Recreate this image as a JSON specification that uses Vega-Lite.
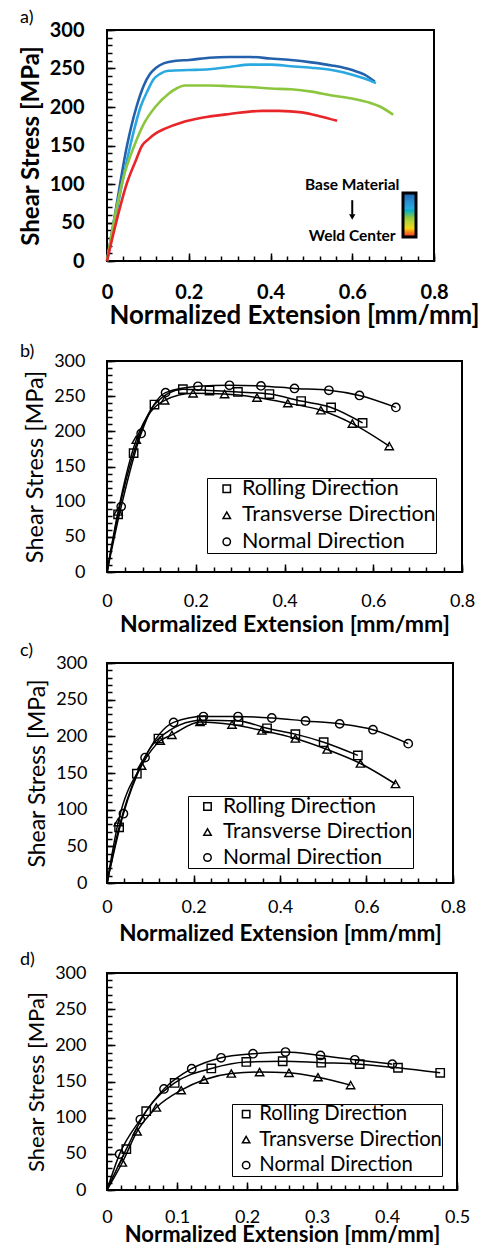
{
  "$schema": "https://vega.github.io/schema/vega-lite/v6.json",
  "padding": {"left": 18, "top": 8, "right": 1, "bottom": 1},
  "spacing": 0,
  "resolve": {"scale": {"shape": "independent", "color": "independent"}, "legend": {"shape": "independent", "color": "independent"}},
  "config": {
    "font": "Lato",
    "view": {"stroke": "black", "strokeWidth": 2},
    "axis": {"grid": false, "domain": false, "tickColor": "black", "tickWidth": 1.5, "labelColor": "black", "titleColor": "black", "labelFlush": false, "labelOverlap": false, "labelBound": false, "labelFont": "Lato", "titleFont": "Lato"},
    "title": {"anchor": "start", "frame": "group", "dx": -87, "offset": 0, "fontSize": 18, "fontWeight": "normal", "color": "black", "font": "Lato"},
    "legend": {"labelFont": "Lato", "labelColor": "black", "labelLimit": 400}
  },
  "datasets": {
    "a": [
      {"c": "c1", "p": 1, "x": 0, "y": 0}, {"c": "c1", "p": 1, "x": 0.02, "y": 62}, {"c": "c1", "p": 1, "x": 0.049, "y": 150}, {"c": "c1", "p": 1, "x": 0.072, "y": 200}, {"c": "c1", "p": 1, "x": 0.09, "y": 228}, {"c": "c1", "p": 1, "x": 0.105, "y": 243}, {"c": "c1", "p": 1, "x": 0.12, "y": 251}, {"c": "c1", "p": 1, "x": 0.14, "y": 257}, {"c": "c1", "p": 1, "x": 0.17, "y": 260}, {"c": "c1", "p": 1, "x": 0.2, "y": 261}, {"c": "c1", "p": 1, "x": 0.25, "y": 264}, {"c": "c1", "p": 1, "x": 0.3, "y": 265}, {"c": "c1", "p": 1, "x": 0.35, "y": 265}, {"c": "c1", "p": 1, "x": 0.4, "y": 263}, {"c": "c1", "p": 1, "x": 0.45, "y": 261}, {"c": "c1", "p": 1, "x": 0.5, "y": 258}, {"c": "c1", "p": 1, "x": 0.55, "y": 254}, {"c": "c1", "p": 1, "x": 0.6, "y": 248}, {"c": "c1", "p": 1, "x": 0.63, "y": 242}, {"c": "c1", "p": 1, "x": 0.655, "y": 233},
      {"c": "c2", "p": 0.65, "x": 0, "y": 0}, {"c": "c2", "p": 0.65, "x": 0.02, "y": 55}, {"c": "c2", "p": 0.65, "x": 0.057, "y": 150}, {"c": "c2", "p": 0.65, "x": 0.082, "y": 200}, {"c": "c2", "p": 0.65, "x": 0.1, "y": 222}, {"c": "c2", "p": 0.65, "x": 0.114, "y": 236}, {"c": "c2", "p": 0.65, "x": 0.13, "y": 243}, {"c": "c2", "p": 0.65, "x": 0.15, "y": 247}, {"c": "c2", "p": 0.65, "x": 0.2, "y": 248}, {"c": "c2", "p": 0.65, "x": 0.25, "y": 249}, {"c": "c2", "p": 0.65, "x": 0.3, "y": 252}, {"c": "c2", "p": 0.65, "x": 0.35, "y": 255}, {"c": "c2", "p": 0.65, "x": 0.4, "y": 255}, {"c": "c2", "p": 0.65, "x": 0.45, "y": 253}, {"c": "c2", "p": 0.65, "x": 0.5, "y": 251}, {"c": "c2", "p": 0.65, "x": 0.55, "y": 248}, {"c": "c2", "p": 0.65, "x": 0.6, "y": 242}, {"c": "c2", "p": 0.65, "x": 0.63, "y": 237}, {"c": "c2", "p": 0.65, "x": 0.658, "y": 231},
      {"c": "c3", "p": 0.45, "x": 0, "y": 0}, {"c": "c3", "p": 0.45, "x": 0.02, "y": 60}, {"c": "c3", "p": 0.45, "x": 0.04, "y": 108}, {"c": "c3", "p": 0.45, "x": 0.067, "y": 150}, {"c": "c3", "p": 0.45, "x": 0.09, "y": 178}, {"c": "c3", "p": 0.45, "x": 0.118, "y": 200}, {"c": "c3", "p": 0.45, "x": 0.15, "y": 217}, {"c": "c3", "p": 0.45, "x": 0.17, "y": 224}, {"c": "c3", "p": 0.45, "x": 0.19, "y": 228}, {"c": "c3", "p": 0.45, "x": 0.25, "y": 228}, {"c": "c3", "p": 0.45, "x": 0.3, "y": 227}, {"c": "c3", "p": 0.45, "x": 0.35, "y": 226}, {"c": "c3", "p": 0.45, "x": 0.4, "y": 224}, {"c": "c3", "p": 0.45, "x": 0.45, "y": 223}, {"c": "c3", "p": 0.45, "x": 0.5, "y": 220}, {"c": "c3", "p": 0.45, "x": 0.55, "y": 215}, {"c": "c3", "p": 0.45, "x": 0.6, "y": 211}, {"c": "c3", "p": 0.45, "x": 0.64, "y": 206}, {"c": "c3", "p": 0.45, "x": 0.67, "y": 200}, {"c": "c3", "p": 0.45, "x": 0.7, "y": 190},
      {"c": "c4", "p": 0, "x": 0, "y": 0}, {"c": "c4", "p": 0, "x": 0.02, "y": 45}, {"c": "c4", "p": 0, "x": 0.048, "y": 100}, {"c": "c4", "p": 0, "x": 0.07, "y": 130}, {"c": "c4", "p": 0, "x": 0.086, "y": 150}, {"c": "c4", "p": 0, "x": 0.101, "y": 158}, {"c": "c4", "p": 0, "x": 0.12, "y": 166}, {"c": "c4", "p": 0, "x": 0.142, "y": 172}, {"c": "c4", "p": 0, "x": 0.183, "y": 180}, {"c": "c4", "p": 0, "x": 0.232, "y": 186}, {"c": "c4", "p": 0, "x": 0.3, "y": 191}, {"c": "c4", "p": 0, "x": 0.38, "y": 195}, {"c": "c4", "p": 0, "x": 0.42, "y": 195}, {"c": "c4", "p": 0, "x": 0.477, "y": 193}, {"c": "c4", "p": 0, "x": 0.52, "y": 188}, {"c": "c4", "p": 0, "x": 0.563, "y": 182}
    ],
    "anno": [
      {"x": 0.6, "y": 99, "t": "Base Material"},
      {"x": 0.6, "y": 33, "t": "Weld Center"}
    ],
    "arrow": [{"x": 0.6, "y": 79, "y2": 60}],
    "head": [{"x": 0.6, "y": 57}],
    "b": [
      {"d": "Rolling Direction", "x": 0, "y": 0, "m": 0}, {"d": "Rolling Direction", "x": 0.025, "y": 82, "m": 1}, {"d": "Rolling Direction", "x": 0.06, "y": 169, "m": 1}, {"d": "Rolling Direction", "x": 0.107, "y": 238, "m": 1}, {"d": "Rolling Direction", "x": 0.171, "y": 260, "m": 1}, {"d": "Rolling Direction", "x": 0.231, "y": 258, "m": 1}, {"d": "Rolling Direction", "x": 0.295, "y": 256, "m": 1}, {"d": "Rolling Direction", "x": 0.366, "y": 253, "m": 1}, {"d": "Rolling Direction", "x": 0.4375, "y": 243, "m": 1}, {"d": "Rolling Direction", "x": 0.505, "y": 234, "m": 1}, {"d": "Rolling Direction", "x": 0.576, "y": 212, "m": 1},
      {"d": "Transverse Direction", "x": 0, "y": 0, "m": 0}, {"d": "Transverse Direction", "x": 0.025, "y": 86, "m": 1}, {"d": "Transverse Direction", "x": 0.066, "y": 188, "m": 1}, {"d": "Transverse Direction", "x": 0.13, "y": 244, "m": 1}, {"d": "Transverse Direction", "x": 0.194, "y": 254, "m": 1}, {"d": "Transverse Direction", "x": 0.265, "y": 253, "m": 1}, {"d": "Transverse Direction", "x": 0.338, "y": 248, "m": 1}, {"d": "Transverse Direction", "x": 0.4075, "y": 240, "m": 1}, {"d": "Transverse Direction", "x": 0.482, "y": 230, "m": 1}, {"d": "Transverse Direction", "x": 0.553, "y": 211, "m": 1}, {"d": "Transverse Direction", "x": 0.636, "y": 179, "m": 1},
      {"d": "Normal Direction", "x": 0, "y": 0, "m": 0}, {"d": "Normal Direction", "x": 0.032, "y": 93, "m": 1}, {"d": "Normal Direction", "x": 0.077, "y": 197, "m": 1}, {"d": "Normal Direction", "x": 0.132, "y": 255, "m": 1}, {"d": "Normal Direction", "x": 0.205, "y": 264, "m": 1}, {"d": "Normal Direction", "x": 0.276, "y": 265.5, "m": 1}, {"d": "Normal Direction", "x": 0.347, "y": 264.6, "m": 1}, {"d": "Normal Direction", "x": 0.4225, "y": 261, "m": 1}, {"d": "Normal Direction", "x": 0.5, "y": 258.4, "m": 1}, {"d": "Normal Direction", "x": 0.569, "y": 251, "m": 1}, {"d": "Normal Direction", "x": 0.651, "y": 234, "m": 1}
    ],
    "c": [
      {"d": "Rolling Direction", "x": 0, "y": 0, "m": 0}, {"d": "Rolling Direction", "x": 0.028, "y": 76, "m": 1}, {"d": "Rolling Direction", "x": 0.069, "y": 149, "m": 1}, {"d": "Rolling Direction", "x": 0.119, "y": 197, "m": 1}, {"d": "Rolling Direction", "x": 0.219, "y": 222, "m": 1}, {"d": "Rolling Direction", "x": 0.304, "y": 221, "m": 1}, {"d": "Rolling Direction", "x": 0.37, "y": 211, "m": 1}, {"d": "Rolling Direction", "x": 0.4355, "y": 203, "m": 1}, {"d": "Rolling Direction", "x": 0.501, "y": 192, "m": 1}, {"d": "Rolling Direction", "x": 0.58, "y": 174, "m": 1},
      {"d": "Transverse Direction", "x": 0, "y": 0, "m": 0}, {"d": "Transverse Direction", "x": 0.026, "y": 83, "m": 1}, {"d": "Transverse Direction", "x": 0.08, "y": 160, "m": 1}, {"d": "Transverse Direction", "x": 0.123, "y": 194, "m": 1}, {"d": "Transverse Direction", "x": 0.15, "y": 202, "m": 1}, {"d": "Transverse Direction", "x": 0.215, "y": 219.5, "m": 1}, {"d": "Transverse Direction", "x": 0.289, "y": 216, "m": 1}, {"d": "Transverse Direction", "x": 0.358, "y": 208, "m": 1}, {"d": "Transverse Direction", "x": 0.4355, "y": 197, "m": 1}, {"d": "Transverse Direction", "x": 0.509, "y": 182, "m": 1}, {"d": "Transverse Direction", "x": 0.586, "y": 163, "m": 1}, {"d": "Transverse Direction", "x": 0.667, "y": 135, "m": 1},
      {"d": "Normal Direction", "x": 0, "y": 0, "m": 0}, {"d": "Normal Direction", "x": 0.038, "y": 94.5, "m": 1}, {"d": "Normal Direction", "x": 0.088, "y": 171, "m": 1}, {"d": "Normal Direction", "x": 0.154, "y": 219, "m": 1}, {"d": "Normal Direction", "x": 0.223, "y": 227, "m": 1}, {"d": "Normal Direction", "x": 0.303, "y": 227, "m": 1}, {"d": "Normal Direction", "x": 0.381, "y": 225, "m": 1}, {"d": "Normal Direction", "x": 0.459, "y": 221, "m": 1}, {"d": "Normal Direction", "x": 0.538, "y": 217, "m": 1}, {"d": "Normal Direction", "x": 0.615, "y": 209, "m": 1}, {"d": "Normal Direction", "x": 0.6965, "y": 190, "m": 1}
    ],
    "d": [
      {"d": "Rolling Direction", "x": 0, "y": 0, "m": 0}, {"d": "Rolling Direction", "x": 0.0276, "y": 56.5, "m": 1}, {"d": "Rolling Direction", "x": 0.056, "y": 109, "m": 1}, {"d": "Rolling Direction", "x": 0.0967, "y": 148, "m": 1}, {"d": "Rolling Direction", "x": 0.149, "y": 168, "m": 1}, {"d": "Rolling Direction", "x": 0.199, "y": 177, "m": 1}, {"d": "Rolling Direction", "x": 0.251, "y": 178, "m": 1}, {"d": "Rolling Direction", "x": 0.306, "y": 176, "m": 1}, {"d": "Rolling Direction", "x": 0.361, "y": 174, "m": 1}, {"d": "Rolling Direction", "x": 0.4157, "y": 169, "m": 1}, {"d": "Rolling Direction", "x": 0.476, "y": 162, "m": 1},
      {"d": "Transverse Direction", "x": 0, "y": 0, "m": 0}, {"d": "Transverse Direction", "x": 0.0219, "y": 38, "m": 1}, {"d": "Transverse Direction", "x": 0.043, "y": 81, "m": 1}, {"d": "Transverse Direction", "x": 0.0705, "y": 114, "m": 1}, {"d": "Transverse Direction", "x": 0.106, "y": 138, "m": 1}, {"d": "Transverse Direction", "x": 0.1386, "y": 152.5, "m": 1}, {"d": "Transverse Direction", "x": 0.1776, "y": 161, "m": 1}, {"d": "Transverse Direction", "x": 0.218, "y": 163, "m": 1}, {"d": "Transverse Direction", "x": 0.26, "y": 162, "m": 1}, {"d": "Transverse Direction", "x": 0.3014, "y": 156, "m": 1}, {"d": "Transverse Direction", "x": 0.348, "y": 145, "m": 1},
      {"d": "Normal Direction", "x": 0, "y": 0, "m": 0}, {"d": "Normal Direction", "x": 0.018, "y": 49.6, "m": 1}, {"d": "Normal Direction", "x": 0.0476, "y": 97.4, "m": 1}, {"d": "Normal Direction", "x": 0.0814, "y": 139.7, "m": 1}, {"d": "Normal Direction", "x": 0.121, "y": 167.7, "m": 1}, {"d": "Normal Direction", "x": 0.163, "y": 182.8, "m": 1}, {"d": "Normal Direction", "x": 0.2086, "y": 188.4, "m": 1}, {"d": "Normal Direction", "x": 0.255, "y": 190.7, "m": 1}, {"d": "Normal Direction", "x": 0.305, "y": 186, "m": 1}, {"d": "Normal Direction", "x": 0.354, "y": 180, "m": 1}, {"d": "Normal Direction", "x": 0.4076, "y": 174, "m": 1}
    ]
  },
  "vconcat": [
    {
      "width": 327, "height": 231,
      "title": {"text": "a)", "offset": -7},
      "resolve": {"axis": {"x": "independent", "y": "independent"}},
      "layer": [
        {
          "data": {"name": "a"},
          "mark": {"type": "line", "strokeWidth": 2.6, "interpolate": "monotone"},
          "encoding": {
            "x": {"field": "x", "type": "quantitative", "scale": {"domain": [0, 0.8], "nice": false},
              "axis": {"orient": "bottom", "values": [0,0.04,0.08,0.12,0.16,0.2,0.24,0.28,0.32,0.36,0.4,0.44,0.48,0.52,0.56,0.6,0.64,0.68,0.72,0.76,0.8], "labels": false, "tickSize": -5, "title": null}},
            "y": {"field": "y", "type": "quantitative", "scale": {"domain": [0, 300], "nice": false},
              "axis": {"orient": "left", "values": [0,10,20,30,40,50,60,70,80,90,100,110,120,130,140,150,160,170,180,190,200,210,220,230,240,250,260,270,280,290,300], "labels": false, "tickSize": -5, "title": null}},
            "color": {"field": "p", "type": "quantitative",
              "scale": {"domain": [0, 0.1, 0.2, 0.35, 0.45, 0.55, 0.65, 0.8, 1], "range": ["#e8262a", "#f47b20", "#f2d81c", "#b5d334", "#8cc63e", "#3bb49a", "#29a9e0", "#2a8fd0", "#2461ad"]},
              "legend": {"orient": "none", "legendX": 296, "legendY": 163, "direction": "vertical", "title": null, "gradientLength": 44, "gradientThickness": 13, "gradientStrokeColor": "black", "gradientStrokeWidth": 3, "labelOpacity": 0, "tickCount": 2}},
            "detail": {"field": "c"}
          }
        },
        {
          "data": {"name": "anno"},
          "mark": {"type": "text", "fontSize": 15.5, "fontWeight": "bold", "color": "black", "align": "center", "baseline": "middle"},
          "encoding": {
            "x": {"field": "x", "type": "quantitative",
              "axis": {"orient": "bottom", "values": [0, 0.2, 0.4, 0.6, 0.8], "format": ".1~f", "tickSize": -8, "labelPadding": 29, "labelFontSize": 20, "labelFontWeight": "bold", "labelOverlap": false,
                "title": ["Normalized Extension [mm/mm]", ""], "titleLineHeight": 13, "titleX": 187, "titleFontSize": 25.8, "titleFontWeight": "bold", "titlePadding": 1}},
            "y": {"field": "y", "type": "quantitative",
              "axis": {"orient": "left", "values": [0, 50, 100, 150, 200, 250, 300], "tickSize": -8, "labelPadding": 31, "labelFontSize": 20, "labelFontWeight": "bold", "labelOverlap": false,
                "title": "Shear Stress [MPa]", "titleFontSize": 24, "titleFontWeight": "bold", "titlePadding": 6}},
            "text": {"field": "t"}
          }
        },
        {
          "data": {"name": "arrow"},
          "mark": {"type": "rule", "color": "black", "strokeWidth": 2},
          "encoding": {"x": {"field": "x", "type": "quantitative", "axis": null}, "y": {"field": "y", "type": "quantitative", "axis": null}, "y2": {"field": "y2"}}
        },
        {
          "data": {"name": "head"},
          "mark": {"type": "point", "shape": "triangle-down", "filled": true, "color": "black", "size": 40, "opacity": 1},
          "encoding": {"x": {"field": "x", "type": "quantitative", "axis": null}, "y": {"field": "y", "type": "quantitative", "axis": null}}
        }
      ]
    },
    {
      "width": 355, "height": 211,
      "title": {"text": "b)", "offset": -9},
      "resolve": {"axis": {"x": "independent", "y": "independent"}},
      "layer": [
        {
          "data": {"name": "b"},
          "mark": {"type": "line", "color": "black", "strokeWidth": 1.5, "interpolate": "monotone"},
          "encoding": {
            "x": {"field": "x", "type": "quantitative", "scale": {"domain": [0, 0.8], "nice": false},
              "axis": {"orient": "bottom", "values": [0,0.04,0.08,0.12,0.16,0.2,0.24,0.28,0.32,0.36,0.4,0.44,0.48,0.52,0.56,0.6,0.64,0.68,0.72,0.76,0.8], "labels": false, "tickSize": -5, "title": null}},
            "y": {"field": "y", "type": "quantitative", "scale": {"domain": [0, 300], "nice": false},
              "axis": {"orient": "left", "values": [0,10,20,30,40,50,60,70,80,90,100,110,120,130,140,150,160,170,180,190,200,210,220,230,240,250,260,270,280,290,300], "labels": false, "tickSize": -5, "title": null}},
            "detail": {"field": "d"}
          }
        },
        {
          "data": {"name": "b"},
          "transform": [{"filter": "datum.m == 1"}],
          "mark": {"type": "point", "filled": false, "color": "black", "size": 70, "strokeWidth": 1.4, "opacity": 1},
          "encoding": {
            "x": {"field": "x", "type": "quantitative",
              "axis": {"orient": "bottom", "values": [0, 0.2, 0.4, 0.6, 0.8], "format": ".1~f", "tickSize": -8, "labelPadding": 28, "labelFontSize": 18, "labelOverlap": false,
                "title": ["Normalized Extension [mm/mm]", ""], "titleLineHeight": 4, "titleFontSize": 23, "titleFontWeight": "bold", "titlePadding": 3}},
            "y": {"field": "y", "type": "quantitative",
              "axis": {"orient": "left", "values": [0, 50, 100, 150, 200, 250, 300], "tickSize": -8, "labelPadding": 30, "labelFontSize": 18, "labelOverlap": false,
                "title": "Shear Stress [MPa]", "titleFontSize": 23.5, "titleFontWeight": "normal", "titlePadding": 6}},
            "shape": {"field": "d", "type": "nominal", "scale": {"domain": ["Rolling Direction", "Transverse Direction", "Normal Direction"], "range": ["square", "triangle-up", "circle"]},
              "legend": {"orient": "none", "legendX": 100, "legendY": 117, "title": null, "fillColor": "white", "strokeColor": "black", "padding": 0, "labelFontSize": 21.5, "symbolSize": 55, "symbolStrokeWidth": 1.5, "symbolStrokeColor": "black", "symbolFillColor": "white", "symbolOffset": 9, "labelOffset": 4.5, "rowPadding": 3.5}}
          }
        }
      ]
    },
    {
      "width": 346, "height": 220,
      "title": {"text": "c)", "offset": -6},
      "resolve": {"axis": {"x": "independent", "y": "independent"}},
      "layer": [
        {
          "data": {"name": "c"},
          "mark": {"type": "line", "color": "black", "strokeWidth": 1.5, "interpolate": "monotone"},
          "encoding": {
            "x": {"field": "x", "type": "quantitative", "scale": {"domain": [0, 0.8], "nice": false},
              "axis": {"orient": "bottom", "values": [0,0.04,0.08,0.12,0.16,0.2,0.24,0.28,0.32,0.36,0.4,0.44,0.48,0.52,0.56,0.6,0.64,0.68,0.72,0.76,0.8], "labels": false, "tickSize": -5, "title": null}},
            "y": {"field": "y", "type": "quantitative", "scale": {"domain": [0, 300], "nice": false},
              "axis": {"orient": "left", "values": [0,10,20,30,40,50,60,70,80,90,100,110,120,130,140,150,160,170,180,190,200,210,220,230,240,250,260,270,280,290,300], "labels": false, "tickSize": -5, "title": null}},
            "detail": {"field": "d"}
          }
        },
        {
          "data": {"name": "c"},
          "transform": [{"filter": "datum.m == 1"}],
          "mark": {"type": "point", "filled": false, "color": "black", "size": 70, "strokeWidth": 1.4, "opacity": 1},
          "encoding": {
            "x": {"field": "x", "type": "quantitative",
              "axis": {"orient": "bottom", "values": [0, 0.2, 0.4, 0.6, 0.8], "format": ".1~f", "tickSize": -8, "labelPadding": 23, "labelFontSize": 18, "labelOverlap": false,
                "title": ["Normalized Extension [mm/mm]", ""], "titleLineHeight": 4, "titleFontSize": 22.5, "titleFontWeight": "bold", "titlePadding": 6}},
            "y": {"field": "y", "type": "quantitative",
              "axis": {"orient": "left", "values": [0, 50, 100, 150, 200, 250, 300], "tickSize": -8, "labelPadding": 28, "labelFontSize": 18, "labelOverlap": false,
                "title": "Shear Stress [MPa]", "titleFontSize": 23, "titleFontWeight": "normal", "titlePadding": 6}},
            "shape": {"field": "d", "type": "nominal", "scale": {"domain": ["Rolling Direction", "Transverse Direction", "Normal Direction"], "range": ["square", "triangle-up", "circle"]},
              "legend": {"orient": "none", "legendX": 81, "legendY": 133, "title": null, "fillColor": "white", "strokeColor": "black", "padding": 0, "labelFontSize": 21, "symbolSize": 55, "symbolStrokeWidth": 1.5, "symbolStrokeColor": "black", "symbolFillColor": "white", "symbolOffset": 9, "labelOffset": 5, "rowPadding": 3.5}}
          }
        }
      ]
    },
    {
      "width": 350, "height": 217,
      "title": {"text": "d)", "offset": -5},
      "resolve": {"axis": {"x": "independent", "y": "independent"}},
      "layer": [
        {
          "data": {"name": "d"},
          "mark": {"type": "line", "color": "black", "strokeWidth": 1.5, "interpolate": "monotone"},
          "encoding": {
            "x": {"field": "x", "type": "quantitative", "scale": {"domain": [0, 0.5], "nice": false},
              "axis": {"orient": "bottom", "values": [0,0.02,0.04,0.06,0.08,0.1,0.12,0.14,0.16,0.18,0.2,0.22,0.24,0.26,0.28,0.3,0.32,0.34,0.36,0.38,0.4,0.42,0.44,0.46,0.48,0.5], "labels": false, "tickSize": -5, "title": null}},
            "y": {"field": "y", "type": "quantitative", "scale": {"domain": [0, 300], "nice": false},
              "axis": {"orient": "left", "values": [0,10,20,30,40,50,60,70,80,90,100,110,120,130,140,150,160,170,180,190,200,210,220,230,240,250,260,270,280,290,300], "labels": false, "tickSize": -5, "title": null}},
            "detail": {"field": "d"}
          }
        },
        {
          "data": {"name": "d"},
          "transform": [{"filter": "datum.m == 1"}],
          "mark": {"type": "point", "filled": false, "color": "black", "size": 70, "strokeWidth": 1.4, "opacity": 1},
          "encoding": {
            "x": {"field": "x", "type": "quantitative",
              "axis": {"orient": "bottom", "values": [0, 0.1, 0.2, 0.3, 0.4, 0.5], "format": ".1~f", "tickSize": -8, "labelPadding": 26, "labelFontSize": 18, "labelOverlap": false,
                "title": "Normalized Extension [mm/mm]", "titleFontSize": 22, "titleFontWeight": "bold", "titlePadding": -1.5}},
            "y": {"field": "y", "type": "quantitative",
              "axis": {"orient": "left", "values": [0, 50, 100, 150, 200, 250, 300], "tickSize": -8, "labelPadding": 29, "labelFontSize": 18, "labelOverlap": false,
                "title": "Shear Stress [MPa]", "titleFontSize": 22, "titleFontWeight": "normal", "titlePadding": 6}},
            "shape": {"field": "d", "type": "nominal", "scale": {"domain": ["Rolling Direction", "Transverse Direction", "Normal Direction"], "range": ["square", "triangle-up", "circle"]},
              "legend": {"orient": "none", "legendX": 125, "legendY": 131, "title": null, "fillColor": "white", "strokeColor": "black", "padding": 0, "labelFontSize": 20.3, "symbolSize": 55, "symbolStrokeWidth": 1.5, "symbolStrokeColor": "black", "symbolFillColor": "white", "symbolOffset": 4, "labelOffset": 3, "rowPadding": 4.5}}
          }
        }
      ]
    }
  ]
}
